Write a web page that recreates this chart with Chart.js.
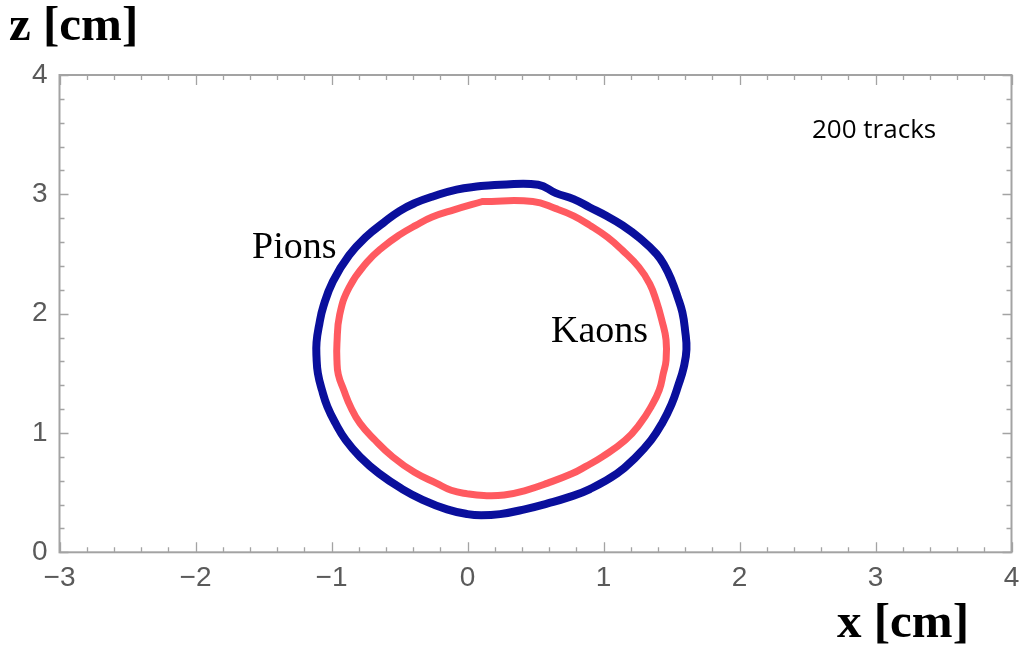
<!DOCTYPE html>
<html>
<head>
<meta charset="utf-8">
<script src="https://cdn.jsdelivr.net/npm/chart.js@4/dist/chart.umd.min.js"></script>
<style>
  html, body { margin: 0; padding: 0; background: #ffffff; }
  #wrap { width: 1030px; height: 650px; position: relative; }
</style>
</head>
<body>
<div id="wrap"><canvas id="c" width="1030" height="650"></canvas></div>
<script>
// ---- data ----
const pionX = [0.10, 0.24, 0.52, 0.65, 0.78, 0.90, 1.02, 1.14, 1.27, 1.39, 1.45, 1.50, 1.545, 1.58, 1.60, 1.61, 1.59, 1.55, 1.50, 1.43, 1.35, 1.24, 1.10, 0.90, 0.74, 0.59, 0.42, 0.24, 0.10, 0.00, -0.15, -0.33, -0.48, -0.65, -0.79, -0.895, -0.97, -1.03, -1.07, -1.10, -1.11, -1.11, -1.09, -1.06, -0.99, -0.87, -0.74, -0.62, -0.50, -0.38, -0.26, -0.08];
const pionZ = [3.07, 3.08, 3.08, 3.01, 2.96, 2.89, 2.82, 2.74, 2.63, 2.50, 2.40, 2.28, 2.14, 2.01, 1.86, 1.70, 1.55, 1.40, 1.24, 1.08, 0.94, 0.80, 0.66, 0.53, 0.46, 0.41, 0.36, 0.32, 0.31, 0.32, 0.36, 0.44, 0.53, 0.66, 0.80, 0.94, 1.08, 1.22, 1.36, 1.50, 1.63, 1.76, 1.91, 2.06, 2.27, 2.49, 2.65, 2.76, 2.86, 2.93, 2.98, 3.04];
const kaonX = [0.11, 0.48, 0.65, 0.78, 0.90, 1.03, 1.14, 1.26, 1.34, 1.39, 1.43, 1.46, 1.46, 1.44, 1.41, 1.35, 1.27, 1.16, 0.99, 0.87, 0.77, 0.59, 0.43, 0.27, 0.12, 0.00, -0.12, -0.23, -0.39, -0.55, -0.68, -0.79, -0.86, -0.91, -0.95, -0.96, -0.96, -0.94, -0.87, -0.74, -0.62, -0.50, -0.38, -0.26, -0.10];
const kaonZ = [2.94, 2.94, 2.88, 2.82, 2.74, 2.64, 2.53, 2.39, 2.25, 2.10, 1.94, 1.78, 1.61, 1.50, 1.36, 1.22, 1.08, 0.94, 0.80, 0.72, 0.66, 0.58, 0.52, 0.48, 0.475, 0.49, 0.52, 0.58, 0.67, 0.80, 0.94, 1.08, 1.22, 1.36, 1.49, 1.61, 1.75, 1.99, 2.22, 2.43, 2.56, 2.66, 2.74, 2.81, 2.87];
const xTickValues = [-3, -2, -1, 0, 1, 2, 3, 4];
const zTickValues = [0, 1, 2, 3, 4];
const seriesNames = ['Pions', 'Kaons'];

function toPoints(xs, zs) {
  const pts = xs.map((x, i) => ({ x: x, y: zs[i] }));
  pts.push({ x: xs[0], y: zs[0] });
  return pts;
}

const FRAME = '#a3a3a3';
const LABEL = '#5a5a5a';

const framePlugin = {
  id: 'frame',
  afterDatasetsDraw(chart) {
    const { ctx, chartArea: a, scales } = chart;
    const xs = scales.x, ys = scales.y;
    ctx.save();
    ctx.strokeStyle = FRAME;
    ctx.lineWidth = 2;
    ctx.strokeRect(a.left, a.top, a.right - a.left, a.bottom - a.top);
    ctx.lineWidth = 1.3;
    for (let v = xTickValues[0]; v <= xTickValues[xTickValues.length - 1] + 1e-9; v += 0.2) {
      const r = Math.round(v * 5) / 5;
      const major = Math.abs(r - Math.round(r)) < 1e-6;
      const len = major ? 10 : 5;
      const px = Math.round(xs.getPixelForValue(r)) + 0.5;
      ctx.beginPath();
      ctx.moveTo(px, a.bottom); ctx.lineTo(px, a.bottom - len);
      ctx.moveTo(px, a.top); ctx.lineTo(px, a.top + len);
      ctx.stroke();
    }
    for (let v = zTickValues[0]; v <= zTickValues[zTickValues.length - 1] + 1e-9; v += 0.2) {
      const r = Math.round(v * 5) / 5;
      const major = Math.abs(r - Math.round(r)) < 1e-6;
      const len = major ? 9 : 5;
      const py = Math.round(ys.getPixelForValue(r)) + 0.5;
      ctx.beginPath();
      ctx.moveTo(a.left, py); ctx.lineTo(a.left + len, py);
      ctx.moveTo(a.right, py); ctx.lineTo(a.right - len, py);
      ctx.stroke();
    }
    ctx.restore();
  },
  afterDraw(chart) {
    const { ctx } = chart;
    ctx.save();
    ctx.fillStyle = '#000';
    ctx.textBaseline = 'alphabetic';
    ctx.textAlign = 'left';
    ctx.font = 'bold 49px "Liberation Serif", "Times New Roman", serif';
    ctx.fillText('z [cm]', 9, 40);
    ctx.fillText('x [cm]', 837, 637);
    ctx.font = '38px "Liberation Serif", "Times New Roman", serif';
    ctx.fillText(seriesNames[0], 252, 258);
    ctx.fillText(seriesNames[1], 551, 342);
    ctx.font = '26px "Open Sans", "Noto Sans", sans-serif';
    ctx.fillText('200 tracks', 812, 138);
    ctx.restore();
  }
};

const minus = v => (v < 0 ? '\u2212' + Math.abs(v) : String(v));

new Chart(document.getElementById('c'), {
  type: 'scatter',
  data: {
    datasets: [
      {
        label: seriesNames[0],
        data: toPoints(pionX, pionZ),
        showLine: true,
        borderColor: '#0a0f9c',
        backgroundColor: '#0a0f9c',
        borderWidth: 8,
        pointRadius: 0,
        tension: 0.45,
        borderJoinStyle: 'round',
        borderCapStyle: 'round',
        fill: false
      },
      {
        label: seriesNames[1],
        data: toPoints(kaonX, kaonZ),
        showLine: true,
        borderColor: '#ff5a60',
        backgroundColor: '#ff5a60',
        borderWidth: 7,
        pointRadius: 0,
        tension: 0.45,
        borderJoinStyle: 'round',
        borderCapStyle: 'round',
        fill: false
      }
    ]
  },
  options: {
    responsive: false,
    animation: false,
    layout: { padding: { left: 0, top: 75, right: 18.5, bottom: 0 } },
    plugins: { legend: { display: false }, tooltip: { enabled: false } },
    scales: {
      x: {
        type: 'linear',
        min: -3, max: 4,
        afterFit(s) { s.height = 97.7; },
        afterBuildTicks(s) { s.ticks = xTickValues.map(v => ({ value: v })); },
        grid: { display: false, drawTicks: false },
        border: { display: false },
        ticks: {
          color: LABEL,
          padding: 9,
          maxRotation: 0,
          autoSkip: false,
          font: { family: '"Liberation Sans", Arial, sans-serif', size: 28 },
          callback: v => minus(v)
        }
      },
      y: {
        type: 'linear',
        min: 0, max: 4,
        afterFit(s) { s.width = 59.5; },
        afterBuildTicks(s) { s.ticks = zTickValues.map(v => ({ value: v })); },
        grid: { display: false, drawTicks: false },
        border: { display: false },
        ticks: {
          color: LABEL,
          padding: 12,
          autoSkip: false,
          font: { family: '"Liberation Sans", Arial, sans-serif', size: 28 },
          callback: v => minus(v)
        }
      }
    }
  },
  plugins: [framePlugin]
});
</script>
</body>
</html>
